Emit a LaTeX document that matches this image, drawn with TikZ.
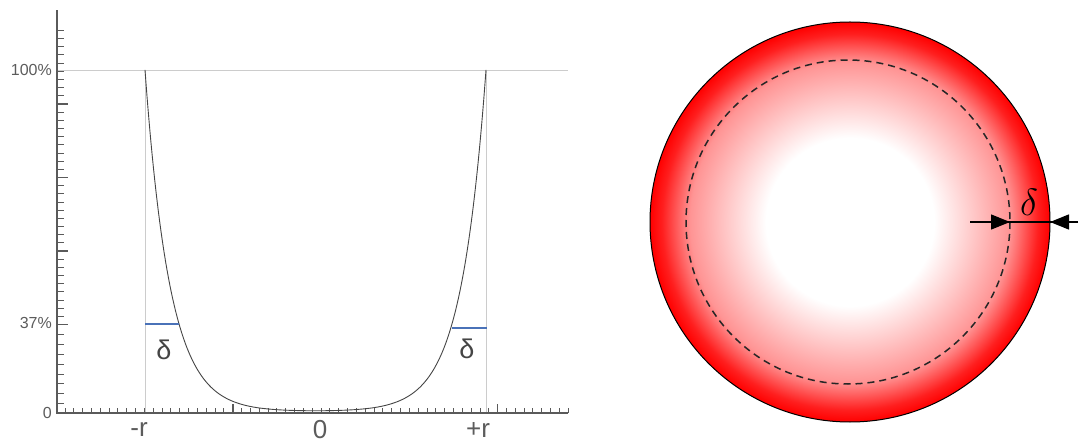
\RequirePackage{fix-cm}
\documentclass[tikz,border=0pt]{standalone}
\usepackage{fontspec}
\setsansfont{Liberation Sans}
\usepackage{tikz}
\usetikzlibrary{arrows.meta, calc}
\definecolor{axisgray}{HTML}{5A5A5A}
\definecolor{labgray}{HTML}{5C5C5C}
\definecolor{gridgray}{HTML}{CCCCCC}
\definecolor{curvegray}{HTML}{454545}
\definecolor{deltablue}{HTML}{4A72B8}
\pgfdeclareradialshading{redglow}{\pgfpoint{0bp}{0bp}}{%
  color(0bp)=(white); color(10.5bp)=(white); color(20bp)=(red!42!white);
  color(23.5bp)=(red!88!white); color(25bp)=(red); color(50bp)=(red)}

\begin{document}
\begin{tikzpicture}[x=1pt, y=-1pt,
  every node/.style={font=\sffamily},
  axis/.style={axisgray, line width=1.5pt},
  tick/.style={axisgray, line width=1pt},
  grid/.style={gridgray, line width=0.9pt},
  ylab/.style={anchor=east, text=labgray, font=\sffamily\fontsize{16}{16}\selectfont, inner sep=1pt},
  xlab/.style={text=labgray, font=\sffamily\fontsize{26}{26}\selectfont},
  dlab/.style={text=curvegray, font=\sffamily\fontsize{27}{27}\selectfont},
  level/.style={deltablue, line width=1.2pt},
  arr/.style={-{Triangle[length=19pt, width=15pt]}, line width=1.4pt}]
\useasboundingbox (0,0) rectangle (1081,443);

% left: profile across the sphere
\draw[grid] (57,70) -- (568,70);
\draw[grid] (145,70) -- (145,413);
\draw[grid] (486,70) -- (486,413);

\foreach \i in {0,...,57}
  \draw[tick] ({65+8.83*\i},413) -- ++(0,-5);
\foreach \i in {19,49}
  \draw[tick, line width=1.6pt] ({65+8.83*\i},413) -- ++(0,-9);
\foreach \k in {1,...,9}
  \draw[tick] (57,{104-8.17*\k}) -- ++(7,0);
\foreach \k in {1,...,26}
  \draw[tick] (57,{104+8.17*\k}) -- ++(7,0);
\foreach \k in {1,...,8}
  \draw[tick] (57,{324.5+9.9*\k}) -- ++(7,0);
\foreach \yy in {104,177.5,251,324.5}
  \draw[tick, line width=1.6pt] (57,\yy) -- ++(11,0);

\draw[axis] (56,413) -- (568,413);
\draw[axis, line width=2pt] (57,413) -- (57,10);

\node[ylab] (pct100) at (53,70) {100\%};
\node[ylab] (pct37) at (53,323) {37\%};
\node[ylab] (pct0) at (53,413) {0};

\draw[curvegray, line width=0.9pt] plot[domain=145:486, samples=181, smooth]
  (\x, {411.5-341.5*(exp((\x-315.5)/25-6.82)+exp(-(\x-315.5)/25-6.82))});

\draw[level] (145,324) -- (179,324);
\draw[level] (452,328) -- (487,328);
\node[dlab] (deltaL) at (164,350) {δ};
\node[dlab] (deltaR) at (467,349) {δ};

\node[xlab] (xminus) at (139,430) {-r};
\node[xlab] (xzero) at (320,430) {0};
\node[xlab] (xplus) at (478,430) {+r};

% right: the sphere and its skin
\shade[shading=redglow] (850,222) circle[radius=200];
\draw[black, line width=1pt] (850,222) circle[radius=200];
\draw[black!85, line width=1.5pt, dash pattern=on 7pt off 5pt] (848,222) circle[radius=162];

\coordinate (skinL) at (970,222);
\coordinate (skinIn) at (1010,222);
\coordinate (skinOut) at (1050,222);
\coordinate (skinR) at (1078,222);
\draw[line width=1.4pt] (skinL) -- (skinR);
\draw[arr] (skinL) -- (skinIn);
\draw[arr] (skinR) -- (skinOut);

\node[font=\fontsize{38}{38}\selectfont] (deltaSkin) at (1029,202) {$\delta$};
\end{tikzpicture}
\end{document}
